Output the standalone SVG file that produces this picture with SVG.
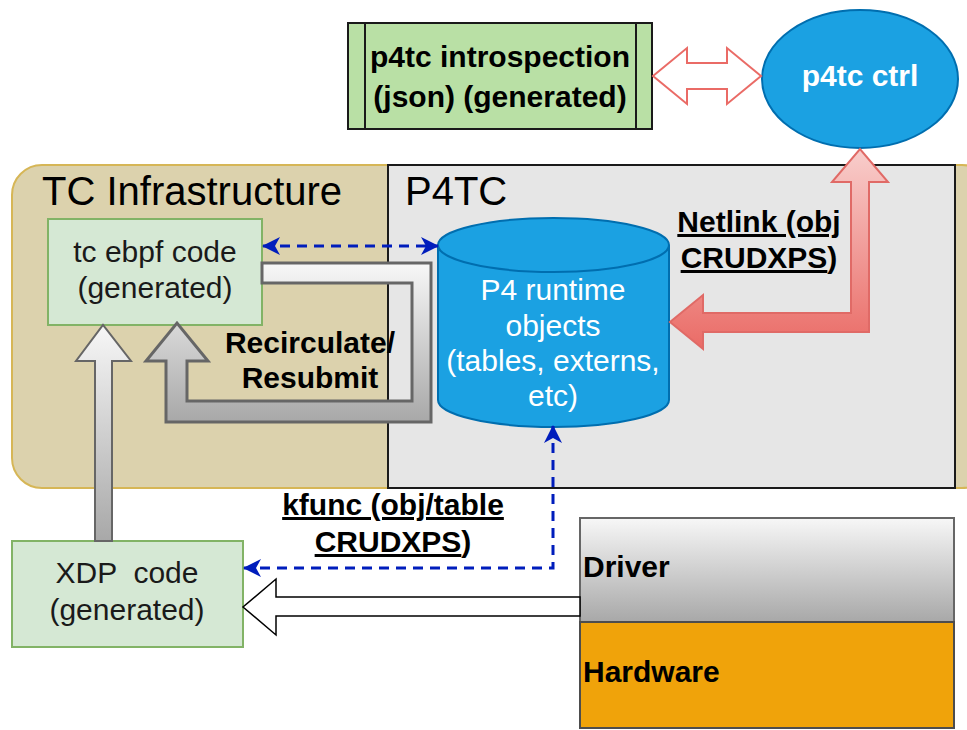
<svg xmlns="http://www.w3.org/2000/svg" width="967" height="730" viewBox="0 0 967 730">
  <style>
    text { font-family: "Liberation Sans", Arial, Helvetica, sans-serif; }
    .reg { font-size: 30px; fill: #1a1a1a; }
    .bold { font-size: 30px; font-weight: bold; fill: #000; }
    .white { fill: #fff; }
    .big { font-size: 40px; fill: #000; }
    .ul { text-decoration: underline; }
    .green { fill: #d5e8d4; stroke: #82b366; stroke-width: 2; }
    .dash { fill: none; stroke: #001dbc; stroke-width: 3; stroke-dasharray: 10 7; }
  </style>
  <defs>
    <marker id="blueHead" viewBox="0 0 18 18" refX="17" refY="9" markerWidth="18" markerHeight="18" markerUnits="userSpaceOnUse" orient="auto-start-reverse">
      <path d="M0,0 L18,9 L0,18 L5,9 Z" fill="#001dbc"/>
    </marker>
    <linearGradient id="grayGrad" x1="0" y1="0" x2="0" y2="1">
      <stop offset="0" stop-color="#f7f7f7"/>
      <stop offset="1" stop-color="#a8a8a8"/>
    </linearGradient>
    <linearGradient id="redGrad" x1="0" y1="0" x2="0" y2="1">
      <stop offset="0" stop-color="#f8cecc"/>
      <stop offset="1" stop-color="#ea6b66"/>
    </linearGradient>
  </defs>

  <!-- containers -->
  <g id="tc-infrastructure">
    <rect x="12" y="165" width="980" height="323" rx="30" ry="30" fill="#dcd2ad" stroke="#d6b656" stroke-width="2"/>
    <text class="big" x="42" y="205">TC Infrastructure</text>
  </g>
  <g id="p4tc">
    <rect x="388" y="165" width="567" height="323" fill="#e6e6e6" stroke="#1a1a1a" stroke-width="2"/>
    <text class="big" x="405" y="205">P4TC</text>
  </g>

  <!-- nodes -->
  <g id="introspection">
    <rect x="348" y="23" width="304" height="106" fill="#b9e0a5" stroke="#1a1a1a" stroke-width="2"/>
    <line x1="365" y1="23" x2="365" y2="129" stroke="#1a1a1a" stroke-width="2"/>
    <line x1="636" y1="23" x2="636" y2="129" stroke="#1a1a1a" stroke-width="2"/>
    <text class="bold" x="500" y="67" text-anchor="middle">p4tc introspection</text>
    <text class="bold" x="500" y="107" text-anchor="middle">(json) (generated)</text>
  </g>
  <g id="p4tc-ctrl">
    <ellipse cx="860" cy="79" rx="98" ry="69" fill="#1ba1e2" stroke="#006eaf" stroke-width="2"/>
    <text class="bold white" x="860" y="86" text-anchor="middle">p4tc ctrl</text>
  </g>
  <g id="tc-ebpf">
    <rect class="green" x="48" y="219" width="214" height="106"/>
    <text class="reg" x="155" y="262" text-anchor="middle">tc ebpf code</text>
    <text class="reg" x="155" y="298" text-anchor="middle">(generated)</text>
  </g>
  <g id="runtime-objects">
    <path d="M438,245 L438,400 A115.5,27 0 0 0 669,400 L669,245 A115.5,27 0 0 0 438,245 Z" fill="#1ba1e2" stroke="#006eaf" stroke-width="2"/>
    <path d="M438,245 A115.5,27 0 0 0 669,245" fill="none" stroke="#006eaf" stroke-width="2"/>
    <text class="reg white" x="553" y="300" text-anchor="middle">P4 runtime</text>
    <text class="reg white" x="553" y="336" text-anchor="middle">objects</text>
    <text class="reg white" x="553" y="371" text-anchor="middle">(tables, externs,</text>
    <text class="reg white" x="553" y="406" text-anchor="middle">etc)</text>
  </g>
  <g id="xdp">
    <rect class="green" x="12" y="541" width="231" height="106"/>
    <text class="reg" x="127" y="583" text-anchor="middle" xml:space="preserve">XDP  code</text>
    <text class="reg" x="127" y="620" text-anchor="middle">(generated)</text>
  </g>
  <g id="driver">
    <rect x="580" y="518" width="374" height="104" fill="url(#grayGrad)" stroke="#666" stroke-width="2"/>
    <text class="bold" x="583" y="577">Driver</text>
  </g>
  <g id="hardware">
    <rect x="580" y="622" width="374" height="106" fill="#f0a30a" stroke="#4d4d4d" stroke-width="2"/>
    <text class="bold" x="583" y="682">Hardware</text>
  </g>

  <!-- connectors -->
  <g id="connectors">
    <!-- introspection <-> ctrl -->
    <path d="M653,76 L687,48 L687,63 L727,63 L727,48 L761,76 L727,104 L727,89 L687,89 L687,104 Z" fill="#fff" stroke="#ea6b66" stroke-width="2"/>
    <!-- netlink -->
    <path d="M670,322 L703,295 L703,313 L851,313 L851,182 L832,182 L860,149 L888,182 L869,182 L869,332 L703,332 L703,349 Z" fill="url(#redGrad)" stroke="#e06a66" stroke-width="2"/>
    <text class="bold" x="759" y="232" text-anchor="middle"><tspan class="ul">Netlink (obj</tspan></text>
    <text class="bold" x="759" y="268" text-anchor="middle"><tspan class="ul">CRUDXPS</tspan>)</text>
    <!-- recirculate / resubmit -->
    <path d="M262,263 L431,263 L431,422 L166,422 L166,361 L146,361 L177,323 L208,361 L187,361 L187,401 L412,401 L412,283 L262,283 Z" fill="url(#grayGrad)" stroke="#666" stroke-width="3"/>
    <text class="bold" x="310" y="353" text-anchor="middle">Recirculate/</text>
    <text class="bold" x="310" y="388" text-anchor="middle">Resubmit</text>
    <!-- xdp -> tc -->
    <path d="M95,541 L95,361 L76,361 L103,325 L131,361 L112,361 L112,541 Z" fill="url(#grayGrad)" stroke="#666" stroke-width="2"/>
    <!-- driver -> xdp -->
    <path d="M580,597 L276,597 L276,579 L243,607 L276,635 L276,616 L580,616 Z" fill="#fff" stroke="#000" stroke-width="1.5"/>
    <!-- tc ebpf <-> runtime objects -->
    <path class="dash" d="M263,246 L438,246" marker-start="url(#blueHead)" marker-end="url(#blueHead)"/>
    <!-- kfunc -->
    <path class="dash" d="M553,426 L553,568 L244,568" marker-start="url(#blueHead)" marker-end="url(#blueHead)"/>
    <text class="bold" x="393" y="515" text-anchor="middle"><tspan class="ul">kfunc (obj/table</tspan></text>
    <text class="bold" x="393" y="552" text-anchor="middle"><tspan class="ul">CRUDXPS</tspan>)</text>
  </g>
</svg>
